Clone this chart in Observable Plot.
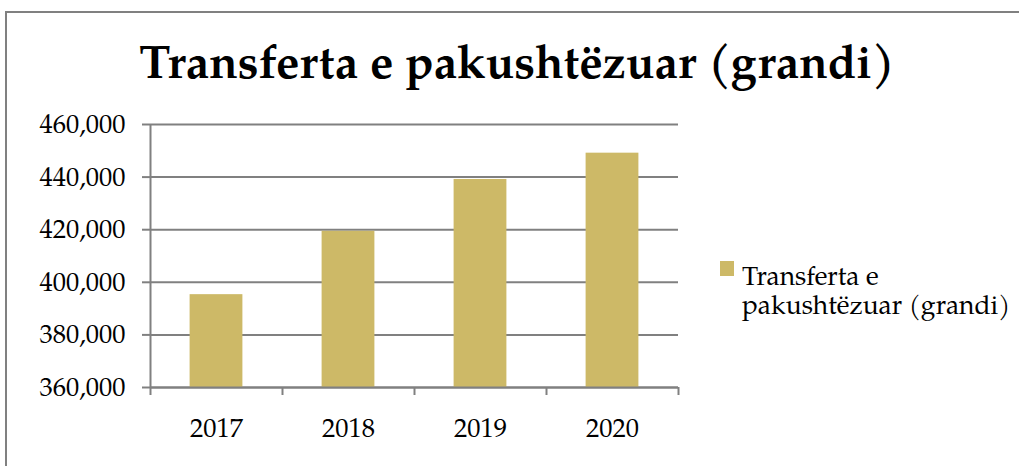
<!DOCTYPE html>
<html>
<head>
<meta charset="utf-8">
<script src="https://cdn.jsdelivr.net/npm/d3@7"></script>
<script src="https://cdn.jsdelivr.net/npm/@observablehq/plot@0.6"></script>
<style>
  html, body { margin: 0; padding: 0; background: #fff; }
  #wrap { position: relative; width: 1019px; height: 466px; overflow: hidden; font-family: "TeX Gyre Pagella", "Liberation Serif", serif; }
  #frame { position: absolute; left: 5px; top: 11px; width: 1100px; height: 600px; border-left: 2px solid #808080; border-top: 2px solid #808080; box-sizing: border-box; }
  #title { position: relative; height: 100px; }
  #chart { position: relative; }
  #legend { position: absolute; left: 0; top: 0; pointer-events: none; }
  svg { display: block; }
</style>
</head>
<body>
<div id="wrap">
  <div id="frame"></div>
  <div id="title"></div>
  <div id="chart"></div>
  <div id="legend"></div>
</div>
<script>
const titleText = "Transferta e pakushtëzuar (grandi)";
const legendLines = ["Transferta e", "pakushtëzuar (grandi)"];
const years = [2017, 2018, 2019, 2020];
const values = [395300, 419400, 439100, 449100];
const yTicks = [360000, 380000, 400000, 420000, 440000, 460000];
const barColor = "#cdb967";
const lineColor = "#808080";
const fontFam = "'TeX Gyre Pagella', 'Liberation Serif', serif";

const data = years.map((year, i) => ({year, value: values[i]}));
const bounds = [years[0] - 0.5, ...years.map(y => y + 0.5)];

// Title
const tsvg = d3.select("#title").append("svg").attr("width", 1019).attr("height", 100);
tsvg.append("text")
  .attr("x", 517).attr("y", 78)
  .attr("text-anchor", "middle")
  .attr("font-family", fontFam)
  .attr("font-weight", "bold")
  .attr("font-size", 46.8)
  .attr("fill", "#000")
  .text(titleText);

// Legend
const lsvg = d3.select("#legend").append("svg").attr("width", 1019).attr("height", 466);
lsvg.append("rect").attr("x", 720).attr("y", 261).attr("width", 14).attr("height", 15).attr("fill", barColor);
lsvg.append("text")
  .attr("x", 742).attr("y", 285)
  .attr("font-family", fontFam)
  .attr("font-size", 26.4)
  .attr("fill", "#000")
  .selectAll("tspan").data(legendLines).join("tspan")
  .attr("x", 742).attr("dy", (d, i) => i === 0 ? 0 : 29)
  .text(d => d);

const chart = Plot.plot({
  width: 1019,
  height: 366,
  marginTop: 24,
  marginBottom: 79,
  marginLeft: 150,
  marginRight: 341,
  style: {fontFamily: fontFam, fontSize: "26.5px", color: "#000", background: "transparent", overflow: "visible"},
  x: {type: "linear", domain: [bounds[0], bounds[bounds.length - 1]]},
  y: {domain: [yTicks[0], yTicks[yTicks.length - 1]]},
  marks: [
    Plot.gridY(yTicks, {stroke: lineColor, strokeOpacity: 1, strokeWidth: 2}),
    Plot.rectY(data, {x1: d => d.year - 0.2, x2: d => d.year + 0.2, y1: yTicks[0], y2: "value", fill: barColor}),
    Plot.axisY(yTicks, {tickSize: 8, tickPadding: 17, tickFormat: d3.format(","), stroke: lineColor, strokeWidth: 2, fill: "#000", fontSize: 26.5, label: null}),
    Plot.ruleX([bounds[0]], {y1: yTicks[0], y2: yTicks[yTicks.length - 1], stroke: lineColor, strokeWidth: 2}),
    Plot.ruleY([yTicks[0]], {stroke: lineColor, strokeWidth: 2}),
    Plot.axisX(bounds, {tickSize: 8, tickFormat: () => "", stroke: lineColor, strokeWidth: 2, label: null}),
    Plot.axisX(years, {tickSize: 0, tickPadding: 31, tickFormat: d => String(d), fill: "#000", fontSize: 26.5, label: null})
  ]
});
document.getElementById("chart").appendChild(chart);
</script>
</body>
</html>
